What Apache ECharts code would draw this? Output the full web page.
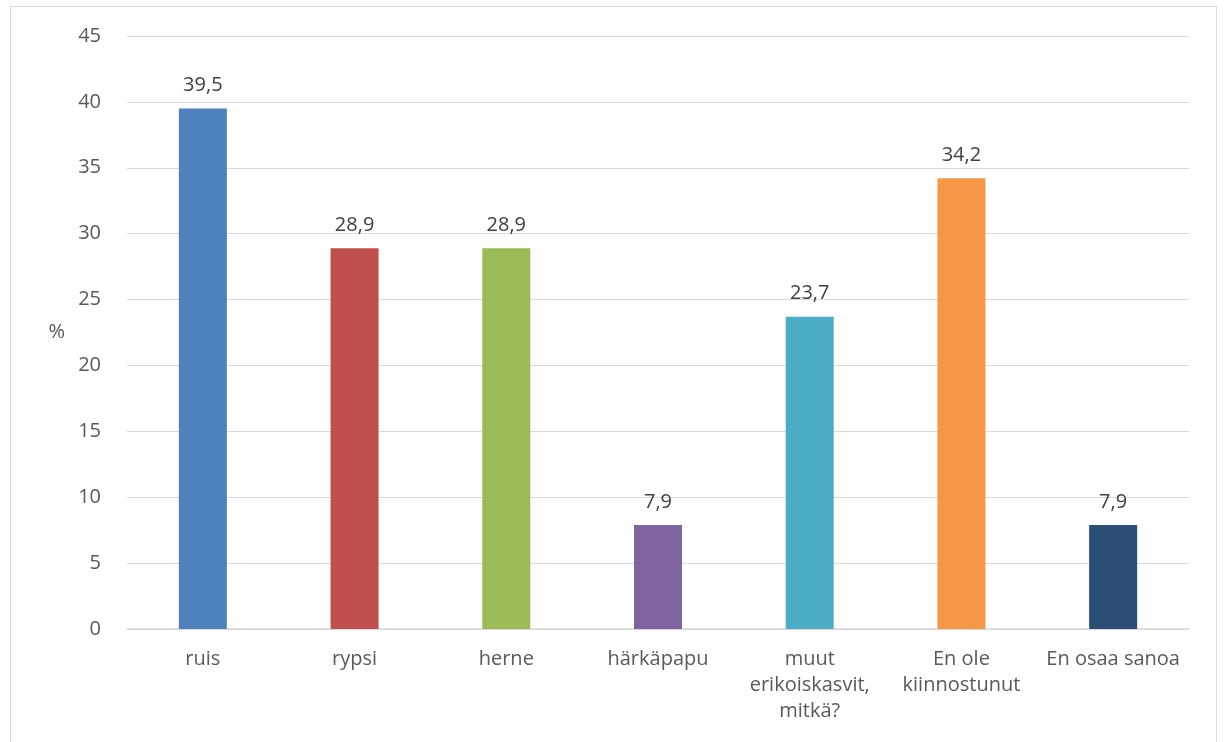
<!DOCTYPE html>
<html><head><meta charset="utf-8">
<script src="https://cdn.jsdelivr.net/npm/echarts@6/dist/echarts.min.js"></script>
<style>html,body{margin:0;padding:0;background:#fff}#c{position:absolute;left:10px;top:6px;width:1207px;height:740px;border:1px solid #d9d9d9;box-sizing:border-box}</style>
</head><body><div id="c"></div>
<script>
const categories = ['ruis','rypsi','herne','härkäpapu','muut\nerikoiskasvit,\nmitkä?','En ole\nkiinnostunut','En osaa sanoa'];
const values = [39.5, 28.9, 28.9, 7.9, 23.7, 34.2, 7.9];
const colors = ['#4f81bd','#c0504d','#9bbb59','#8064a2','#4bacc6','#f79646','#2c4d75'];
const font = 'Open Sans';
const fs = 20;
const chart = echarts.init(document.getElementById('c'));
chart.setOption({
  animation:false,
  grid:{left:116,right:27,top:29,bottom:116},
  xAxis:{type:'category',data:categories,
    axisLine:{lineStyle:{color:'#d9d9d9',width:1.5}},axisTick:{show:false},
    axisLabel:{color:'#595959',fontSize:fs,fontFamily:font,margin:17,lineHeight:26,interval:0}},
  yAxis:{type:'value',min:0,max:45,interval:5,name:'%',nameLocation:'middle',nameGap:62,nameRotate:0,
    nameTextStyle:{color:'#595959',fontSize:fs,fontFamily:font},
    axisLine:{show:false},axisTick:{show:false},
    axisLabel:{color:'#595959',fontSize:fs,fontFamily:font,margin:26},
    splitLine:{lineStyle:{color:'#d9d9d9',width:1}}},
  series:[{type:'bar',barWidth:48,
    data:values.map((v,i)=>({value:v,itemStyle:{color:colors[i]}})),
    label:{show:true,position:'top',distance:13,color:'#404040',fontSize:fs,fontFamily:font,
      formatter:p=>String(p.value).replace('.',',')}}]
});
</script></body></html>
